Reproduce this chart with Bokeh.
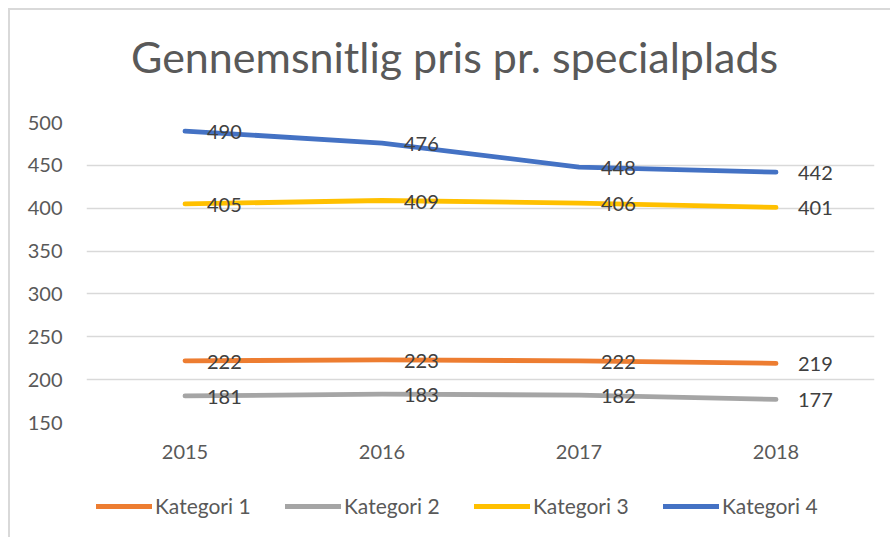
from bokeh.plotting import figure
from bokeh.layouts import column
from bokeh.models import Range1d, FixedTicker, Legend, LegendItem, ColumnDataSource, Div
from bokeh.embed import file_html
from bokeh.resources import INLINE
from bokeh.core.properties import value

years = ["2015", "2016", "2017", "2018"]
series_names = ["Kategori 1", "Kategori 2", "Kategori 3", "Kategori 4"]
kategori_1 = [222, 223, 222, 219]
kategori_2 = [181, 183, 182, 177]
kategori_3 = [405, 409, 406, 401]
kategori_4 = [490, 476, 448, 442]
y_ticks = [150, 200, 250, 300, 350, 400, 450, 500]
title_text = "Gennemsnitlig pris pr. specialplads"

colors = ["#ED7D31", "#A5A5A5", "#FFC000", "#4472C4"]
FONT = "Lato"
all_series = [kategori_1, kategori_2, kategori_3, kategori_4]

title_div = Div(
    text=('<div style="font-family:Lato;font-size:43px;color:#595959;line-height:50px;'
          'padding-left:121px;padding-top:22px;white-space:nowrap">' + title_text + '</div>'),
    width=880, height=90, margin=0)

p = figure(x_range=years, y_range=Range1d(150, 500), width=880, height=380,
           output_backend="svg", toolbar_location=None,
           min_border_left=76, min_border_right=16, min_border_top=22, min_border_bottom=58)
p.outline_line_color = None
p.background_fill_color = "white"
p.border_fill_color = "white"

p.xgrid.grid_line_color = None
p.ygrid.grid_line_color = "#D9D9D9"
p.ygrid.grid_line_width = 1.5
p.yaxis.ticker = FixedTicker(ticks=y_ticks)
for ax in (p.xaxis[0], p.yaxis[0]):
    ax.axis_line_color = None
    ax.major_tick_line_color = None
    ax.minor_tick_line_color = None
    ax.major_label_text_font = FONT
    ax.major_label_text_font_size = "20px"
    ax.major_label_text_color = "#595959"
p.yaxis.major_label_standoff = 18
p.xaxis.major_label_standoff = 16

for name, vals, c in zip(series_names, all_series, colors):
    src = ColumnDataSource(dict(x=years, y=vals, lab=[str(v) for v in vals]))
    p.line("x", "y", source=src, line_color=c, line_width=4.8, line_cap="round", line_join="round")
    p.text("x", "y", text="lab", source=src, x_offset=22, y_offset=1, text_align="left",
           text_baseline="middle", text_font=value(FONT), text_font_size="20px", text_color="#404040")

# legend strip below the chart (its series lines fall outside its visible range)
lg = figure(width=880, height=57, x_range=p.x_range, y_range=Range1d(0, 1),
            output_backend="svg", toolbar_location=None,
            min_border_left=76, min_border_right=16, min_border_top=0, min_border_bottom=0)
lg.outline_line_color = None
lg.axis.visible = False
lg.grid.visible = False
lg.border_fill_color = "white"
lg.background_fill_color = "white"
items = []
for name, vals, c in zip(series_names, all_series, colors):
    r = lg.line(x=years, y=vals, line_color=c, line_width=5, line_cap="round")
    items.append(LegendItem(label=name, renderers=[r]))
legend = Legend(items=items, orientation="horizontal", location=(10, 19),
                glyph_width=56, glyph_height=20, label_height=20, label_standoff=3, label_width=98,
                spacing=32, padding=0, margin=0, border_line_color=None, background_fill_alpha=0,
                label_text_font=FONT, label_text_font_size="21px", label_text_color="#595959")
lg.add_layout(legend, "center")

layout = column(title_div, p, lg, spacing=0)
layout.styles = {"position": "relative", "left": "8px", "top": "8px",
                 "border-left": "2px solid #D9D9D9", "border-top": "2px solid #D9D9D9"}

open("out.html", "w").write(file_html(layout, INLINE))
